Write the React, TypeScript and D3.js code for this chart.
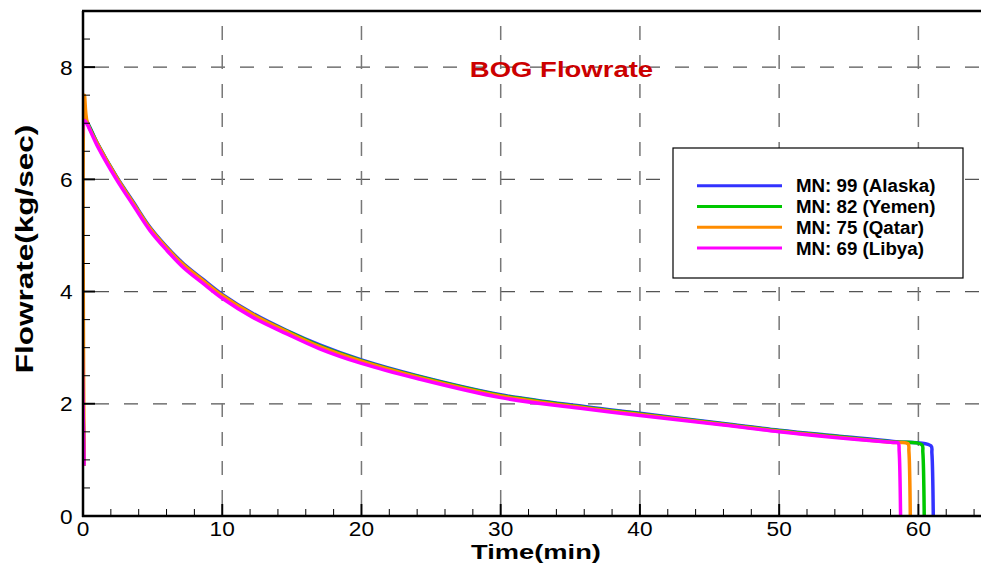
import React from "react";
import * as d3 from "d3";

const seriesNames = ["MN: 99 (Alaska)", "MN: 82 (Yemen)", "MN: 75 (Qatar)", "MN: 69 (Libya)"];
const seriesColors = ["#3333ff", "#00c800", "#ff8c00", "#ff00ff"];

const alaskaT = [0.08, 0.1, 0.3, 1, 2.4, 3.6, 4.8, 6, 7.2, 8.6, 10, 12.2, 14.6, 17, 20, 24, 30, 36, 40, 46, 50, 54, 58.2, 60.9, 60.97, 61.07];
const alaskaV = [0.9, 7.08, 7.02, 6.66, 6.05, 5.6, 5.15, 4.8, 4.5, 4.22, 3.95, 3.61, 3.31, 3.05, 2.78, 2.5, 2.16, 1.95, 1.83, 1.65, 1.53, 1.43, 1.33, 1.25, 1.12, 0];

const yemenT = [0.08, 0.1, 0.3, 1, 2.4, 3.6, 4.8, 6, 7.2, 8.6, 10, 12.2, 14.6, 17, 20, 24, 30, 36, 40, 46, 50, 54, 58.2, 60.25, 60.32, 60.42];
const yemenV = [0.9, 7.07, 7.01, 6.65, 6.04, 5.58, 5.13, 4.78, 4.48, 4.2, 3.93, 3.59, 3.3, 3.03, 2.77, 2.49, 2.15, 1.94, 1.82, 1.64, 1.52, 1.42, 1.32, 1.27, 1.14, 0];

const qatarT = [0.08, 0.1, 0.3, 1, 2.4, 3.6, 4.8, 6, 7.2, 8.6, 10, 12.2, 14.6, 17, 20, 24, 30, 36, 40, 46, 50, 54, 58.2, 59.25, 59.32, 59.42];
const qatarV = [0.9, 7.5, 7.02, 6.65, 6.04, 5.58, 5.13, 4.78, 4.48, 4.2, 3.93, 3.59, 3.29, 3.02, 2.76, 2.48, 2.14, 1.93, 1.81, 1.63, 1.51, 1.41, 1.31, 1.29, 1.15, 0];

const libyaT = [0.08, 0.1, 0.3, 1, 2.4, 3.6, 4.8, 6, 7.2, 8.6, 10, 12.2, 14.6, 17, 20, 24, 30, 36, 40, 46, 50, 54, 58.2, 58.55, 58.62, 58.72];
const libyaV = [0.9, 7.05, 6.98, 6.61, 6.0, 5.54, 5.09, 4.74, 4.43, 4.15, 3.88, 3.54, 3.25, 2.98, 2.72, 2.45, 2.11, 1.91, 1.79, 1.62, 1.5, 1.4, 1.31, 1.3, 1.15, 0];

const seriesT = [alaskaT, yemenT, qatarT, libyaT];
const seriesV = [alaskaV, yemenV, qatarV, libyaV];

const xMajor = [0, 10, 20, 30, 40, 50, 60];
const xMinor = [2, 4, 6, 8, 12, 14, 16, 18, 22, 24, 26, 28, 32, 34, 36, 38, 42, 44, 46, 48, 52, 54, 56, 58, 62, 64];
const yMajor = [0, 2, 4, 6, 8];
const yMinor = [0.5, 1, 1.5, 2.5, 3, 3.5, 4.5, 5, 5.5, 6.5, 7, 7.5, 8.5];

const W = 981;
const H = 571;
const L = 83, T = 11, R = 988, B = 516;

export default function App() {
  const x = d3.scaleLinear().domain([0, 65]).range([L, R]);
  const y = d3.scaleLinear().domain([0, 9]).range([B, T]);
  const line = d3
    .line<[number, number]>()
    .x((d) => x(d[0]))
    .y((d) => y(d[1]))
    .curve(d3.curveCatmullRom.alpha(0.5));
  const font = "'Liberation Sans', Arial, Helvetica, sans-serif";

  return (
    <svg width={W} height={H} style={{ position: "absolute", left: 0, top: 0, background: "#fff" }}>
      <rect x={0} y={0} width={W} height={H} fill="#fff" />
      <defs>
        <clipPath id="clip">
          <rect x={L} y={T} width={R - L} height={B - T} />
        </clipPath>
      </defs>
      {/* grid */}
      {yMajor.filter((v) => v > 0).map((v) => (
        <line key={"gy" + v} x1={L} x2={R} y1={y(v)} y2={y(v)} stroke="#555" strokeWidth={1.2} strokeDasharray="14,15" strokeDashoffset={-12} />
      ))}
      {xMajor.filter((v) => v > 0).map((v) => (
        <line key={"gx" + v} x1={x(v)} x2={x(v)} y1={B} y2={T} stroke="#777" strokeWidth={1.5} strokeDasharray="14,15" strokeDashoffset={-12} />
      ))}
      {/* series */}
      <g clipPath="url(#clip)">
        {seriesT.map((ts, i) => (
          <path
            key={"s" + i}
            d={line(ts.map((t, j) => [t, seriesV[i][j]] as [number, number])) || ""}
            fill="none"
            stroke={seriesColors[i]}
            strokeWidth={3.5}
            strokeLinejoin="round"
          />
        ))}
      </g>
      {/* ticks */}
      {xMajor.map((v) => (
        <line key={"xt" + v} x1={x(v)} x2={x(v)} y1={B} y2={B - 12} stroke="#000" strokeWidth={2} />
      ))}
      {xMinor.map((v) => (
        <line key={"xm" + v} x1={x(v)} x2={x(v)} y1={B} y2={B - 7} stroke="#000" strokeWidth={1} />
      ))}
      {yMajor.map((v) => (
        <line key={"yt" + v} x1={L} x2={L + 12} y1={y(v)} y2={y(v)} stroke="#000" strokeWidth={2} />
      ))}
      {yMinor.map((v) => (
        <line key={"ym" + v} x1={L} x2={L + 7} y1={y(v)} y2={y(v)} stroke="#000" strokeWidth={1} />
      ))}
      {/* frame */}
      <line x1={L} x2={L} y1={T} y2={B + 1} stroke="#000" strokeWidth={2.5} />
      <line x1={L - 1} x2={R} y1={B} y2={B} stroke="#000" strokeWidth={2.5} />
      <line x1={L - 1} x2={R} y1={T} y2={T} stroke="#000" strokeWidth={2.5} />
      {/* tick labels */}
      {xMajor.map((v) => (
        <g key={"xl" + v} transform={`translate(${x(v)},536) scale(1.08,1)`}>
          <text textAnchor="middle" fontFamily={font} fontSize={21} fill="#000">{v}</text>
        </g>
      ))}
      {yMajor.map((v) => (
        <g key={"yl" + v} transform={`translate(72.5,${y(v) + 7.5}) scale(1.08,1)`}>
          <text textAnchor="end" fontFamily={font} fontSize={21} fill="#000">{v}</text>
        </g>
      ))}
      {/* axis titles */}
      <g transform="translate(536,559) scale(1.3,1)">
        <text textAnchor="middle" fontFamily={font} fontWeight="bold" fontSize={21} fill="#000">Time(min)</text>
      </g>
      <g transform="translate(33,249) rotate(-90) scale(1.37,1)">
        <text textAnchor="middle" fontFamily={font} fontWeight="bold" fontSize={23} fill="#000">Flowrate(kg/sec)</text>
      </g>
      <g transform="translate(561.5,77) scale(1.25,1)">
        <text textAnchor="middle" fontFamily={font} fontWeight="bold" fontSize={22} fill="#cc0000">BOG Flowrate</text>
      </g>
      {/* legend */}
      <rect x={673} y={148} width={290} height={130} fill="#fff" stroke="#000" strokeWidth={1.2} />
      {seriesNames.map((n, i) => (
        <g key={"lg" + i}>
          <line x1={697} x2={782} y1={185.7 + i * 20.8} y2={185.7 + i * 20.8} stroke={seriesColors[i]} strokeWidth={3} />
          <g transform={`translate(796,${192.3 + i * 20.8}) scale(1.04,1)`}>
            <text fontFamily={font} fontWeight="bold" fontSize={18} fill="#000">{n}</text>
          </g>
        </g>
      ))}
    </svg>
  );
}
